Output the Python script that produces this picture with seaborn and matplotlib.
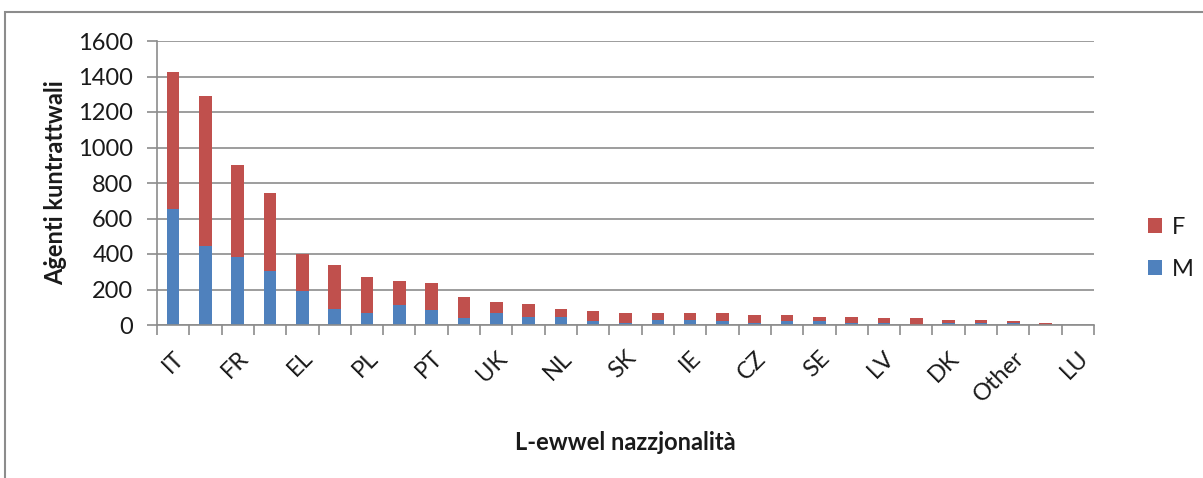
import pandas as pd
import seaborn as sns
import matplotlib.pyplot as plt
from matplotlib.patches import Rectangle

# Nazzjonalità (every second label is shown on the axis, as in the original)
paesi = ["IT", "BE", "FR", "ES", "EL", "DE", "PL", "RO", "PT", "BG",
         "UK", "HU", "NL", "LT", "SK", "HR", "IE", "AT", "CZ", "FI",
         "SE", "SI", "LV", "EE", "DK", "CY", "Other", "MT", "LU"]
rgiel = [653, 446, 382, 303, 192, 92, 66, 111, 85, 40,
         66, 47, 47, 21, 11, 30, 30, 21, 11, 21,
         21, 11, 11, 0, 11, 11, 11, 0, 0]
nisa = [773, 844, 518, 441, 207, 245, 207, 136, 152, 117,
        64, 74, 45, 56, 55, 36, 36, 45, 46, 36,
        26, 36, 27, 38, 19, 19, 10, 11, 1]

df = pd.DataFrame({"paese": paesi, "M": rgiel, "F": nisa})
df["total"] = df["M"] + df["F"]

red = "#C0504D"
blue = "#4F81BD"
grid = "#8C8C8C"
txt = "#1A1A1A"

sns.set_style("white")
plt.rcParams["font.family"] = ["Lato", "DejaVu Sans"]

fig = plt.figure(figsize=(12.03, 4.78), dpi=100)
ax = fig.add_axes([157 / 1203, 1 - 325 / 478, 937 / 1203, 284 / 478])

sns.barplot(data=df, x="paese", y="total", color=red, width=0.39,
            saturation=1, linewidth=0, ax=ax, label="F")
sns.barplot(data=df, x="paese", y="M", color=blue, width=0.39,
            saturation=1, linewidth=0, ax=ax, label="M")

ax.set_xlim(-0.5, len(paesi) - 0.5)
ax.set_ylim(0, 1600)
ax.set_yticks(range(0, 1601, 200))
ax.yaxis.grid(True, color=grid, linewidth=1.2)
ax.set_axisbelow(True)

for s in ["top", "right"]:
    ax.spines[s].set_visible(False)
for s in ["left", "bottom"]:
    ax.spines[s].set_color(grid)
    ax.spines[s].set_linewidth(1.2)

# labels on every second category, tick marks on the boundaries
ax.set_xticks(range(len(paesi)))
ax.set_xticklabels([p if i % 2 == 0 else "" for i, p in enumerate(paesi)],
                   rotation=45, ha="right", rotation_mode="anchor")
ax.set_xticks([i - 0.5 for i in range(len(paesi) + 1)], minor=True)
ax.tick_params(axis="x", which="major", length=0, pad=16, labelsize=17,
               labelcolor=txt)
ax.tick_params(axis="x", which="minor", length=7, width=1.2, color=grid,
               direction="out", bottom=True)
ax.tick_params(axis="y", length=7, width=1.2, color=grid, direction="out",
               left=True, labelsize=17, labelcolor=txt, pad=10)

ax.set_xlabel("L-ewwel nazzjonalità", fontsize=17, fontweight="bold",
              color=txt, labelpad=18)
ax.set_ylabel("Aġenti kuntrattwali", fontsize=17, fontweight="bold",
              color=txt, labelpad=8)

handles, labels = ax.get_legend_handles_labels()
ax.legend(handles, labels, loc="center left", bbox_to_anchor=(1.035, 0.27),
          frameon=False, fontsize=17, handlelength=0.6, handleheight=0.6,
          handletextpad=0.4, labelspacing=0.9, labelcolor=txt)

fig.patches.append(Rectangle((5 / 1203, -0.01), 1.2, 1 - 12 / 478 + 0.01,
                             transform=fig.transFigure, fill=False,
                             edgecolor="#8C8C8C", linewidth=1.5))

fig.savefig("out.png", dpi=100)
